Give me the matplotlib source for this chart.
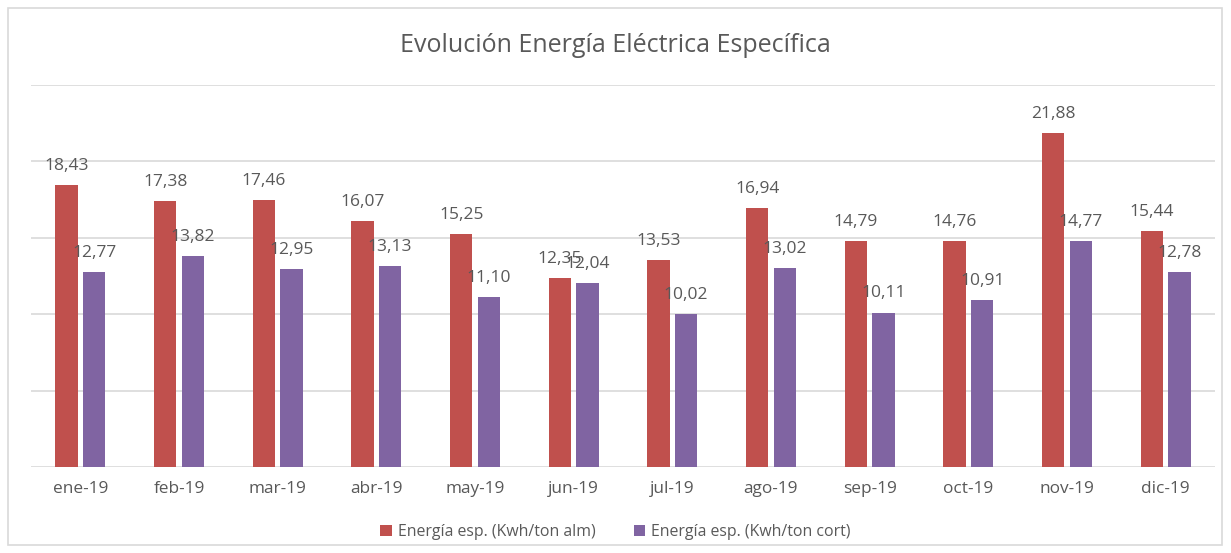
import matplotlib.pyplot as plt
import numpy as np
from matplotlib.patches import Rectangle

months = ["ene-19", "feb-19", "mar-19", "abr-19", "may-19", "jun-19",
          "jul-19", "ago-19", "sep-19", "oct-19", "nov-19", "dic-19"]
alm = [18.43, 17.38, 17.46, 16.07, 15.25, 12.35, 13.53, 16.94, 14.79, 14.76, 21.88, 15.44]
cort = [12.77, 13.82, 12.95, 13.13, 11.10, 12.04, 10.02, 13.02, 10.11, 10.91, 14.77, 12.78]

RED = "#C0504D"
PURPLE = "#8064A2"
GREY = "#595959"
FONT = ["Open Sans", "DejaVu Sans"]

plt.rcParams["font.family"] = FONT

fig = plt.figure(figsize=(12.31, 5.53), dpi=100)
fig.patches.append(Rectangle((8 / 1231, 8 / 553), 1214 / 1231, 537 / 553,
                             transform=fig.transFigure, fill=False,
                             edgecolor="#d9d9d9", linewidth=1.2))
ax = fig.add_axes([31 / 1231, 86 / 553, 1184 / 1231, 382 / 553])

x = np.arange(len(months))
w = 0.225
ax.bar(x - 0.14, alm, w, color=RED, label="Energía esp. (Kwh/ton alm)", zorder=3)
ax.bar(x + 0.14, cort, w, color=PURPLE, label="Energía esp. (Kwh/ton cort)", zorder=3)

for xi, a, c in zip(x, alm, cort):
    ax.annotate(f"{a:.2f}".replace(".", ","), (xi - 0.14, a), xytext=(0, 8),
                textcoords="offset points", ha="center", va="bottom",
                fontsize=12.5, color=GREY)
    ax.annotate(f"{c:.2f}".replace(".", ","), (xi + 0.14, c), xytext=(0, 8),
                textcoords="offset points", ha="center", va="bottom",
                fontsize=12.5, color=GREY)

ax.set_xlim(-0.5, len(months) - 0.5)
ax.set_ylim(0, 25)
ax.set_yticks([0, 5, 10, 15, 20, 25])
ax.yaxis.grid(True, color="#d9d9d9", linewidth=1.2, zorder=0)
ax.tick_params(axis="y", left=False, labelleft=False)
ax.tick_params(axis="x", length=0, pad=10, labelsize=12.4, labelcolor=GREY)
ax.set_xticks(x)
ax.set_xticklabels(months)
for s in ax.spines.values():
    s.set_visible(False)

fig.text(0.5, 1 - 45 / 553, "Evolución Energía Eléctrica Específica",
         ha="center", va="center", fontsize=18, color=GREY)

fig.legend(loc="center", bbox_to_anchor=(0.5, 1 - 532 / 553), ncol=2,
           frameon=False, fontsize=11.4, labelcolor=GREY, handlelength=0.7,
           handleheight=0.7, columnspacing=2.4, handletextpad=0.4)

fig.savefig("out.png", dpi=100)
